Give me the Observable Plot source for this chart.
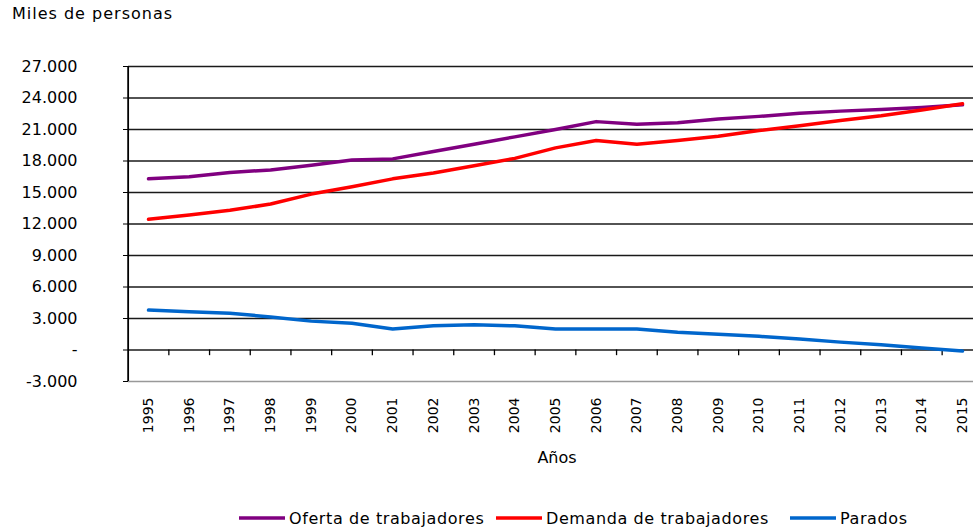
<!DOCTYPE html>
<html>
<head>
<meta charset="utf-8">
<script src="https://cdn.jsdelivr.net/npm/d3@7"></script>
<script src="https://cdn.jsdelivr.net/npm/@observablehq/plot@0.6"></script>
<style>
  body { margin: 0; background: #fff; }
  #wrap { width: 973px; height: 528px; font-family: "DejaVu Sans", sans-serif; color: #000; overflow: hidden; }
  #title { height: 28px; line-height: 28px; padding-left: 12px; font-size: 16px; letter-spacing: 1px; }
  #legend { position: relative; height: 34px; font-size: 16px; letter-spacing: 0.6px; }
  #legend .item { position: absolute; top: 14px; display: flex; align-items: center; height: 20px; white-space: nowrap; }
  #legend svg { margin-right: 4px; }
</style>
</head>
<body>
<div id="wrap">
  <div id="title">Miles de personas</div>
  <div id="chart"></div>
  <div id="legend"></div>
</div>
<script>
const years = [1995, 1996, 1997, 1998, 1999, 2000, 2001, 2002, 2003, 2004, 2005,
               2006, 2007, 2008, 2009, 2010, 2011, 2012, 2013, 2014, 2015];
const oferta  = [16300, 16500, 16900, 17150, 17600, 18100, 18200, 18900, 19600, 20300, 21000,
                 21750, 21500, 21650, 22000, 22250, 22550, 22750, 22900, 23100, 23350];
const demanda = [12450, 12850, 13300, 13900, 14850, 15550, 16300, 16850, 17550, 18250, 19250,
                 19950, 19600, 19950, 20350, 20900, 21350, 21850, 22300, 22850, 23450];
const parados = [3800, 3650, 3500, 3150, 2750, 2550, 2000, 2300, 2400, 2300, 2000,
                 2000, 2000, 1700, 1500, 1300, 1050, 750, 500, 200, -100];
const seriesNames = ["Oferta de trabajadores", "Demanda de trabajadores", "Parados"];
const seriesColors = ["#800080", "#ff0000", "#0066cc"];
const yTicks = [-3000, 0, 3000, 6000, 9000, 12000, 15000, 18000, 21000, 24000, 27000];
const xLabel = "Años";

// legend layout (pixel positions of each legend entry)
const legendLeft = [239, 496, 790];

const seriesValues = [oferta, demanda, parados];
const rows = [];
seriesNames.forEach((name, s) => {
  years.forEach((yr, i) => rows.push({year: yr, value: seriesValues[s][i], series: name}));
});

const fmt = d3.formatLocale({decimal: ",", thousands: ".", grouping: [3], currency: ["", ""]}).format(",");
const yFormat = d => d === 0 ? "-" : fmt(d).replace("−", "-");

const between = years.slice(0, -1).map(y => y + 0.5);

const chart = Plot.plot({
  width: 973,
  height: 466,
  marginTop: 38,
  marginBottom: 113,
  marginLeft: 128,
  marginRight: 0,
  style: {fontFamily: "DejaVu Sans", fontSize: "16px", color: "#000", background: "#fff"},
  x: {type: "linear", domain: [years[0], years[years.length - 1]], range: [148, 962]},
  y: {domain: [yTicks[0], yTicks[yTicks.length - 1]]},
  color: {domain: seriesNames, range: seriesColors},
  marks: [
    Plot.ruleY(yTicks.slice(1), {stroke: "#1a1a1a", strokeWidth: 1.5}),
    Plot.ruleY(yTicks.slice(0, 1), {stroke: "#999", strokeWidth: 1.5}),
    Plot.ruleX(between, {y1: 0, y2: -540, stroke: "#000", strokeWidth: 1.3}),
    Plot.ruleX([years[0] - 0.5], {y1: yTicks[0], y2: yTicks[yTicks.length - 1], stroke: "#000", strokeWidth: 1.8}),
    Plot.axisY(yTicks, {tickFormat: yFormat, tickSize: 5, tickPadding: 46, fontSize: 16, label: null, stroke: "#000"}),
    Plot.axisX(years, {tickFormat: d => String(d), tickRotate: -90, tickSize: 0, tickPadding: 16, fontSize: 14, label: null}),
    Plot.text([xLabel], {frameAnchor: "bottom", dy: 81, dx: 6, fontSize: 16, text: d => d, fill: "#000"}),
    Plot.line(rows, {x: "year", y: "value", z: "series", stroke: "series", strokeWidth: 3.5, strokeLinejoin: "round"})
  ]
});
document.getElementById("chart").appendChild(chart);

const legend = document.getElementById("legend");
seriesNames.forEach((name, i) => {
  const item = document.createElement("div");
  item.className = "item";
  item.style.left = legendLeft[i] + "px";
  item.innerHTML = `<svg width="46" height="4"><line x1="0" y1="2" x2="46" y2="2" stroke="${seriesColors[i]}" stroke-width="3.5"/></svg><span>${name}</span>`;
  legend.appendChild(item);
});
</script>
</body>
</html>
